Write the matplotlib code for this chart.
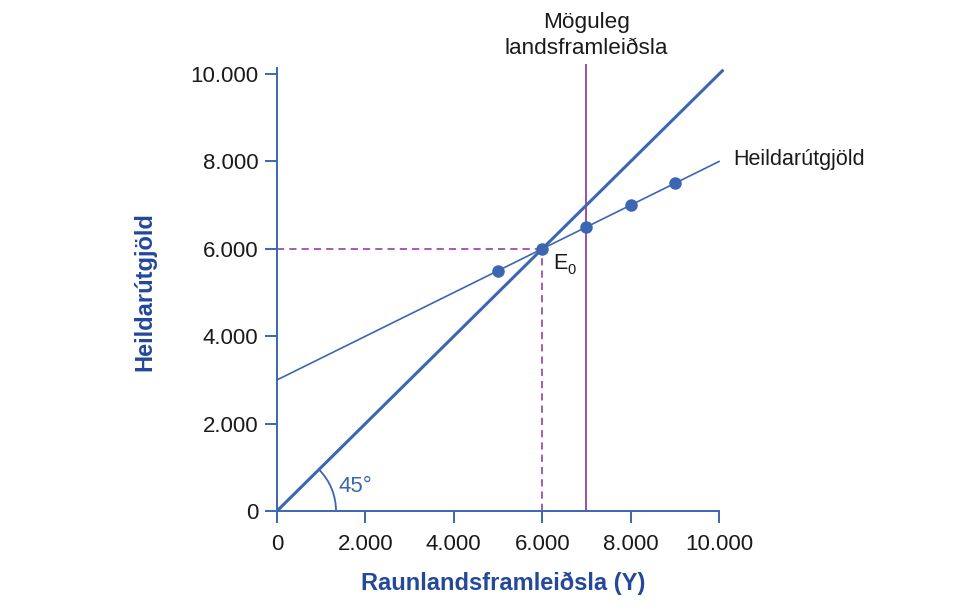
#!/usr/bin/env python3

"""45 degree line / total expenditure chart."""

import matplotlib
matplotlib.use('Agg')
import matplotlib.pyplot as plt
from matplotlib.patches import Arc

BLUE = '#3b67b2'
DARK_BLUE = '#24489a'
PURPLE = '#9c4fa8'
TEXT = '#1a1a1a'

# data
tick_vals = [0, 2000, 4000, 6000, 8000, 10000]
tick_lbls = ['0', '2.000', '4.000', '6.000', '8.000', '10.000']

line45_x = [0, 10100]
line45_y = [0, 10100]

ae_line_x = [0, 10000]
ae_line_y = [3000, 8000]

ae_pts_x = [5000, 6000, 7000, 8000, 9000]
ae_pts_y = [5500, 6000, 6500, 7000, 7500]

potential_y = 7000
equilibrium = (6000, 6000)


def main():
  plt.rcParams['font.family'] = ['Liberation Sans', 'DejaVu Sans']
  fig = plt.figure(figsize=(9.76, 6.12), dpi=100)
  ax = fig.add_axes([277 / 976, 1 - 511 / 612, 442 / 976, 443 / 612])
  ax.set_xlim(0, 10000)
  ax.set_ylim(0, 10140)

  # guide lines to the equilibrium
  ex, ey = equilibrium
  ax.plot([0, ex], [ey, ey], color=PURPLE, lw=1.3, ls=(0, (4, 2.8)))
  ax.plot([ex, ex], [0, ey], color=PURPLE, lw=1.3, ls=(0, (4, 2.8)))

  # potential output
  ax.plot([potential_y, potential_y], [0, 10200], color=PURPLE, lw=1.4, clip_on=False)

  # 45 degree line
  ax.plot(line45_x, line45_y, color=BLUE, lw=2.2, clip_on=False, solid_capstyle='butt')

  # total expenditure
  ax.plot(ae_line_x, ae_line_y, color=BLUE, lw=1.2, clip_on=False)
  ax.plot(ae_pts_x, ae_pts_y, 'o', color=BLUE, ms=8, clip_on=False, zorder=5)

  # angle marker
  ax.add_patch(Arc((0, 0), 2 * 1335, 2 * 1350, theta1=0, theta2=45, color=BLUE, lw=1.3))
  ax.text(1400, 435, '45°', color=BLUE, fontsize=16, ha='left', va='baseline')

  # E0 label
  ax.text(6244, 5540, 'E', color=TEXT, fontsize=15.5, ha='left', va='baseline')
  ax.text(6560, 5420, '0', color=TEXT, fontsize=10.5, ha='left', va='baseline')

  ax.text(10320, 8040, 'Heildarútgjöld', color=TEXT, fontsize=15.5, ha='left', va='center',
          clip_on=False)
  ax.text(7000, 10880, 'Möguleg\nlandsframleiðsla', color=TEXT, fontsize=16.2, ha='center',
          va='center', linespacing=1.3, clip_on=False)

  # axes stuff
  for side in ['top', 'right']:
    ax.spines[side].set_visible(False)
  for side in ['left', 'bottom']:
    ax.spines[side].set_color(BLUE)
    ax.spines[side].set_linewidth(1.4)
  ax.set_xticks(tick_vals, tick_lbls)
  ax.set_yticks(tick_vals, tick_lbls)
  ax.tick_params(axis='both', direction='out', length=8.5, width=1.4, color=BLUE,
                 labelsize=16, labelcolor=TEXT)
  ax.tick_params(axis='x', pad=8)
  ax.tick_params(axis='y', pad=5)

  fig.text(503 / 976, 1 - 583 / 612, 'Raunlandsframleiðsla (Y)', color=DARK_BLUE,
           fontsize=17, fontweight='bold', ha='center', va='center')
  fig.text(145 / 976, 1 - 292 / 612, 'Heildarútgjöld', color=DARK_BLUE, fontsize=17,
           fontweight='bold', ha='center', va='center', rotation=90)

  fig.savefig('out.png', dpi=100)


if __name__ == "__main__":
  main()
